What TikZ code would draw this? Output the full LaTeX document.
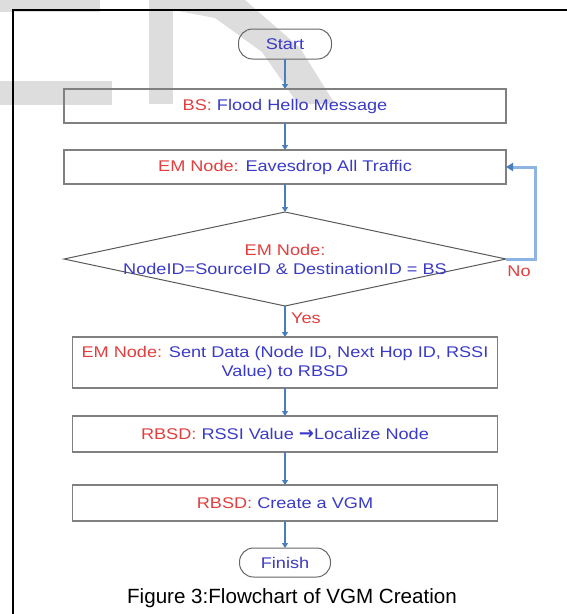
\documentclass[tikz,border=0pt]{standalone}
\usepackage{fontspec}
\setmainfont{Liberation Sans}
\newfontfamily\boxfont{Liberation Sans}[FakeStretch=1.17]
\newfontfamily\arrowfont{DejaVu Sans}
\usetikzlibrary{arrows.meta,positioning,shapes.geometric}

\definecolor{emred}{RGB}{226,62,62}
\definecolor{txtblue}{RGB}{58,58,200}
\definecolor{flowblue}{RGB}{74,126,187}
\definecolor{loopblue}{RGB}{141,180,226}
\definecolor{boxgrey}{RGB}{128,128,128}
\definecolor{wmgrey}{RGB}{221,221,221}
\newcommand{\actor}[1]{\textcolor{emred}{#1}}

\begin{document}
\begin{tikzpicture}[x=1pt,y=-1pt,
    flow/.style={draw=flowblue,line width=1.1pt,-{Triangle[width=6pt,length=5pt]}},
    back/.style={draw=loopblue,line width=3pt,-{Triangle[width=8pt,length=7pt,color=flowblue]}},
    proc/.style={rectangle,draw=boxgrey,line width=1.2pt,minimum width=442pt,minimum height=34pt,
                 inner sep=0pt,outer sep=0pt,text=txtblue,align=center,
                 font=\boxfont\fontsize{15.5}{19}\selectfont},
    term/.style={proc,draw=black!60,line width=1pt,rounded corners=14pt,minimum width=93pt,minimum height=30pt},
    decision/.style={diamond,draw=black!65,line width=1pt,minimum width=442pt,minimum height=94pt,
                 inner sep=0pt,outer sep=0pt},
    lbl/.style={text=emred,font=\boxfont\fontsize{15.5}{19}\selectfont}]
  \useasboundingbox (0,0) rectangle (567,614);

  % watermark behind the chart
  \fill[wmgrey] (0,0) rectangle (100,12);
  \fill[wmgrey] (0,81) rectangle (112,105);
  \fill[wmgrey] (149,0) rectangle (173,104);
  \fill[wmgrey] (173,0) -- (245,0) -- (300,48) -- (335,104) -- (298,104)
                -- (262,52) -- (215,18) -- (173,10) -- cycle;

  % frame
  \draw[black,line width=2pt] (12.5,620) -- (12.5,10) -- (570,10);

  \node[term]                          (start)  at (285,44) {Start};
  \node[proc]                          (flood)  [below=30pt of start] {\actor{BS:} Flood Hello Message};
  \node[proc]                          (eaves)  [below=27pt of flood] {\actor{EM Node:} Eavesdrop All Traffic};
  \node[decision]                      (check)  [below=28pt of eaves] {};
  \node[lbl,text=txtblue,align=center] (checktxt) at (check.center)
        {\actor{EM Node:}\\NodeID=SourceID \& DestinationID = BS};
  \node[proc,minimum width=425pt,minimum height=51pt] (send) [below=31pt of check]
        {\actor{EM Node:} Sent Data (Node ID, Next Hop ID, RSSI\\Value) to RBSD};
  \node[proc,minimum width=425pt,minimum height=36pt] (locate) [below=28pt of send]
        {\actor{RBSD:} RSSI Value {\arrowfont\bfseries\fontsize{18}{19}\selectfont →}Localize Node};
  \node[proc,minimum width=425pt,minimum height=36pt] (vgm) [below=33pt of locate]
        {\actor{RBSD:} Create a VGM};
  \node[term,minimum width=91pt,minimum height=29pt] (finish) [below=27pt of vgm] {Finish};

  \node[lbl] (yes) at (306,318) {Yes};
  \node[lbl] (no)  at (519,271) {No};

  \draw[flow] (start) -- (flood);
  \draw[flow] (flood) -- (eaves);
  \draw[flow] (eaves) -- (check);
  \draw[flow] (check) -- (send);
  \draw[flow] (send) -- (locate);
  \draw[flow] (locate) -- (vgm);
  \draw[flow] (vgm) -- (finish);
  \draw[back] (check.east) -- ++(29,0) |- (eaves.east);

  \node[font=\fontsize{20.6}{24}\selectfont] (caption) at (292,598) {Figure 3:Flowchart of VGM Creation};
\end{tikzpicture}
\end{document}
